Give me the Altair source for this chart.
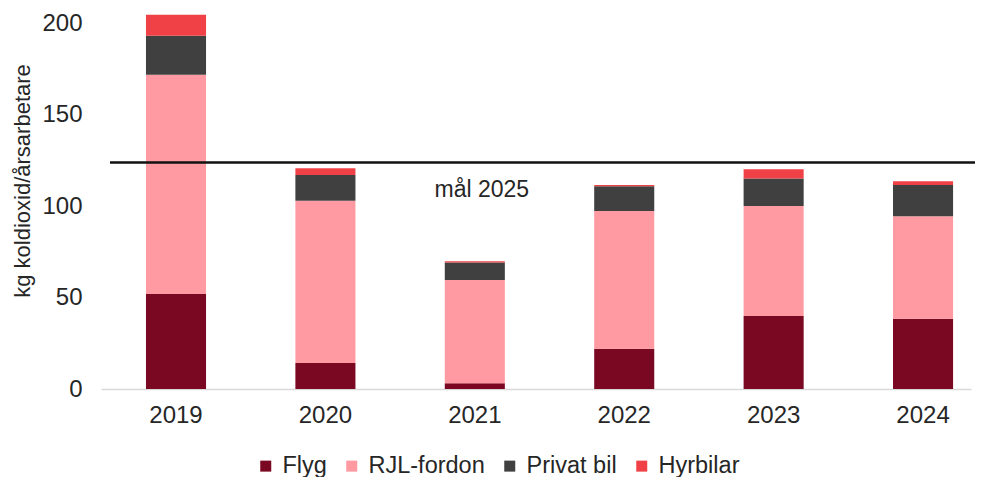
import altair as alt
import pandas as pd

years = ["2019", "2020", "2021", "2022", "2023", "2024"]
categories = ["Flyg", "RJL-fordon", "Privat bil", "Hyrbilar"]
flyg = [52.0, 14.2, 3.1, 22.1, 40.0, 38.5]
rjl = [120.0, 88.9, 56.6, 75.4, 60.2, 56.1]
privat = [21.3, 14.1, 9.5, 13.5, 15.0, 17.1]
hyrbilar = [11.5, 3.7, 0.7, 0.7, 5.1, 2.0]
target_value = 124
target_label = "mål 2025"
y_ticks = [0, 50, 100, 150, 200]
colors = ["#7b0823", "#ff9aa2", "#404040", "#ef4146"]

series = [flyg, rjl, privat, hyrbilar]
rows = []
for ci, (cat, vals) in enumerate(zip(categories, series)):
    for y, v in zip(years, vals):
        rows.append({"År": y, "Kategori": cat, "Värde": v, "ordning": ci})
df = pd.DataFrame(rows)

FONT = "Liberation Sans"

x_enc = alt.X(
    "År:N",
    sort=years,
    scale=alt.Scale(paddingInner=0.598, paddingOuter=0.2105, align=0.715),
    axis=alt.Axis(
        title=None, labelAngle=0, ticks=False, labelPadding=14,
        labelFontSize=24, labelFont=FONT, labelColor="#262626",
        domainColor="#d9d9d9", domainWidth=1.5,
    ),
)

bars = alt.Chart(df).mark_bar().encode(
    x=x_enc,
    y=alt.Y(
        "Värde:Q",
        stack="zero",
        scale=alt.Scale(domain=[0, 208], nice=False),
        axis=alt.Axis(
            title="kg koldioxid/årsarbetare", values=y_ticks, grid=False,
            domain=False, ticks=False, labelPadding=19, labelFontSize=24,
            labelFont=FONT, labelColor="#262626",
            titleFont=FONT, titleFontSize=22, titleFontWeight="normal",
            titleColor="#262626", titleX=-78.5, titleY=171.5,
            titleAlign="center", titleBaseline="middle", titleAngle=270,
        ),
    ),
    color=alt.Color(
        "Kategori:N",
        scale=alt.Scale(domain=categories, range=colors),
        legend=alt.Legend(
            title=None, orient="none", direction="horizontal",
            legendX=153, legendY=445, symbolType="square", symbolSize=121,
            symbolStrokeWidth=0, labelFontSize=23.5, labelFont=FONT,
            labelColor="#262626", labelOffset=5, columnPadding=13,
            padding=0,
        ),
    ),
    order=alt.Order("ordning:Q", sort="ascending"),
)

target_df = pd.DataFrame({"mål": [target_value], "text": [target_label], "År": ["2021"], "ty": [109]})

rule = alt.Chart(target_df).mark_rule(color="#111111", strokeWidth=2.4).encode(
    y="mål:Q",
    x=alt.value(9),
    x2=alt.value(876),
)

label = alt.Chart(target_df).mark_text(
    font=FONT, fontSize=23, color="#262626", dx=7, baseline="middle", align="center"
).encode(
    x=alt.X("År:N", sort=years),
    y="ty:Q",
    text="text:N",
)

chart = alt.layer(bars, rule, label).properties(
    width=870,
    height=380,
    autosize=alt.AutoSizeParams(type="none"),
    padding={"left": 93, "top": 1, "right": 4, "bottom": 88},
).configure(font=FONT).configure_view(stroke=None, strokeWidth=0)

chart.save("out.html", embed_options={"renderer": "svg", "actions": False})
